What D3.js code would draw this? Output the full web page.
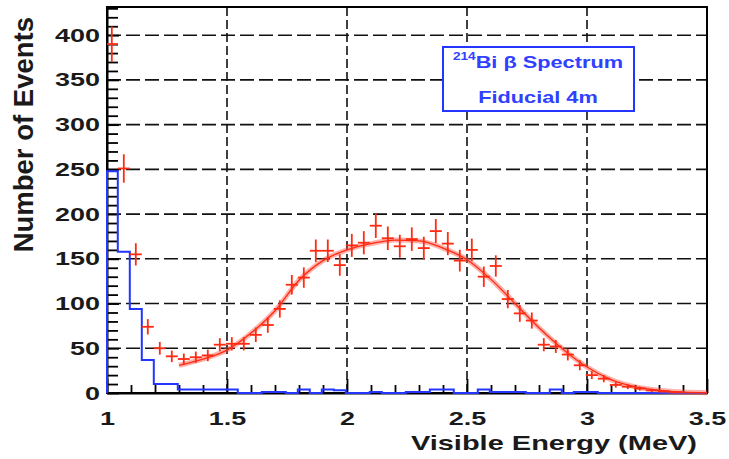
<!DOCTYPE html>
<html>
<head>
<meta charset="utf-8">
<script src="https://cdn.jsdelivr.net/npm/d3@7"></script>
<style>
  html, body { margin: 0; padding: 0; background: #fff; }
  svg { display: block; }
</style>
</head>
<body>
<svg id="chart" width="729" height="459"></svg>
<script>
// Bi-214 beta spectrum, fiducial 4m
const xTicks = [1, 1.5, 2, 2.5, 3, 3.5];
const xTickLabels = ["1", "1.5", "2", "2.5", "3", "3.5"];
const yTicks = [0, 50, 100, 150, 200, 250, 300, 350, 400];

// blue histogram: bins of 0.05 MeV starting at 0.995
const histStart = 0.995;
const binWidth = 0.05;
const histCounts = [
  248, 158, 94, 37, 10, 10, 4, 4, 4, 4,
  4, 0, 0, 1, 1, 0, 4, 0, 4, 3,
  0, 0, 1, 0, 0, 1, 1, 4, 4, 0,
  0, 4, 1, 1, 1, 0, 0, 4, 0, 1,
  1, 0, 0, 0, 0, 0, 0, 0, 0, 0, 0
];

// red data points (bin centres 1.02 + 0.05k)
const dataCounts = [
  390, 251, 155, 74, 50, 41, 38, 40, 42, 54,
  55, 55, 65, 76, 94, 121, 129, 159, 159, 143,
  165, 168, 187, 173, 164, 172, 162, 181, 167, 148,
  160, 130, 142, 105, 89, 81, 54, 52, 43, 31,
  20, 16, 9, 7, 5, 3, 2, 1
];

// red fit curve
const fitE = [1.3, 1.4, 1.5, 1.6, 1.7, 1.8, 1.9, 2.0, 2.1, 2.2, 2.3, 2.4,
  2.5, 2.6, 2.7, 2.8, 2.9, 3.0, 3.1, 3.2, 3.3, 3.4, 3.5];
const fitVal = [31, 38, 48, 67, 92, 126, 148, 160, 167, 171, 170, 162,
  149, 127, 100, 73, 49, 29, 15, 7, 3, 1, 0.3];

const SX = 1.42; // the figure's text is stretched horizontally
const font = "'Liberation Sans', Arial, Helvetica, sans-serif";
const red = "#ff2a12";
const blue = "#2236ff";
const ink = "#1a1a1a";

const svg = d3.select("#chart");

const x = d3.scaleLinear().domain([1, 3.5]).range([107, 707]).clamp(true);
const y = d3.scaleLinear().domain([0, 431.5]).range([393, 7]);

// Grid (dashed)
const grid = svg.append("g");
grid.selectAll(".gx")
  .data(xTicks.slice(1, -1))
  .enter()
  .append("line")
  .attr("x1", d => x(d))
  .attr("x2", d => x(d))
  .attr("y1", y.range()[0])
  .attr("y2", y.range()[1])
  .attr("stroke", "#111")
  .attr("stroke-width", 1.6)
  .attr("stroke-dasharray", "9,4");

grid.selectAll(".gy")
  .data(yTicks.slice(1))
  .enter()
  .append("line")
  .attr("x1", x.range()[0])
  .attr("x2", x.range()[1])
  .attr("y1", d => y(d))
  .attr("y2", d => y(d))
  .attr("stroke", "#111")
  .attr("stroke-width", 1.6)
  .attr("stroke-dasharray", "14,5");

// Frame
svg.append("rect")
  .attr("x", 107)
  .attr("y", 7)
  .attr("width", 600)
  .attr("height", 386)
  .attr("fill", "none")
  .attr("stroke", "#000")
  .attr("stroke-width", 2);

// Axes (ticks point inward)
const yMinor = d3.range(10, 431, 10).filter(v => v % 50 !== 0);
const xMinor = d3.range(1.1, 3.5, 0.1).filter(v => Math.abs(v * 2 - Math.round(v * 2)) > 1e-6);

const yAxis = svg.append("g")
  .attr("transform", "translate(107,0)")
  .call(d3.axisLeft(y).tickValues(yTicks).tickSizeInner(-12).tickSizeOuter(0).tickPadding(7));
const xAxis = svg.append("g")
  .attr("transform", "translate(0,393)")
  .call(d3.axisBottom(x).tickValues(xTicks).tickFormat((d, i) => xTickLabels[i])
    .tickSizeInner(-14).tickSizeOuter(0).tickPadding(18));

svg.append("g")
  .attr("transform", "translate(107,0)")
  .call(d3.axisLeft(y).tickValues(yMinor).tickFormat("").tickSizeInner(-11).tickSizeOuter(0))
  .call(g => g.select(".domain").remove());
svg.append("g")
  .attr("transform", "translate(0,393)")
  .call(d3.axisBottom(x).tickValues(xMinor).tickFormat("").tickSizeInner(-8).tickSizeOuter(0))
  .call(g => g.select(".domain").remove());

svg.selectAll(".tick line").attr("stroke", "#000").attr("stroke-width", 1.8);
svg.selectAll(".domain").attr("stroke", "#000").attr("stroke-width", 2);

yAxis.selectAll("text")
  .attr("x", 0)
  .attr("transform", `translate(-7,0) scale(${SX},1)`)
  .attr("font-family", font)
  .attr("font-weight", 700)
  .attr("font-size", 19)
  .attr("fill", ink);

xAxis.selectAll("text")
  .attr("y", 0)
  .attr("dy", 0)
  .attr("transform", `translate(0,32) scale(${SX},1)`)
  .attr("font-family", font)
  .attr("font-weight", 700)
  .attr("font-size", 19)
  .attr("fill", ink);

// Axis titles
svg.append("text")
  .attr("transform", `translate(697,450) scale(1.45,1)`)
  .attr("text-anchor", "end")
  .attr("font-family", font)
  .attr("font-weight", 700)
  .attr("font-size", 20)
  .attr("fill", ink)
  .text("Visible Energy (MeV)");

svg.append("text")
  .attr("transform", "translate(33,17) rotate(-90)")
  .attr("text-anchor", "end")
  .attr("font-family", font)
  .attr("font-weight", 700)
  .attr("font-size", 27.5)
  .attr("fill", ink)
  .text("Number of Events");

// Blue histogram
const histPts = [{ e: histStart, v: 0 }];
histCounts.forEach((c, i) => histPts.push({ e: histStart + i * binWidth, v: c }));
histPts.push({ e: histStart + histCounts.length * binWidth, v: 0 });

svg.append("path")
  .datum(histPts)
  .attr("fill", "none")
  .attr("stroke", blue)
  .attr("stroke-width", 2)
  .attr("d", d3.line().x(d => x(d.e)).y(d => y(d.v)).curve(d3.curveStepAfter));

// Fit band + line
const fitPts = fitE.map((e, i) => ({ e, v: fitVal[i] }));
const fitLine = d3.line().x(d => x(d.e)).y(d => y(d.v)).curve(d3.curveMonotoneX);

svg.append("path")
  .datum(fitPts)
  .attr("fill", "none")
  .attr("stroke", "#ff5040")
  .attr("stroke-opacity", 0.45)
  .attr("stroke-width", 5)
  .attr("d", fitLine);

svg.append("path")
  .datum(fitPts)
  .attr("fill", "none")
  .attr("stroke", red)
  .attr("stroke-width", 1.3)
  .attr("d", fitLine);

// Red data points with error bars
const pts = dataCounts.map((c, i) => ({ e: histStart + (i + 0.5) * binWidth, v: c }));
const crosses = svg.append("g").attr("stroke", red).attr("stroke-width", 1.8);

crosses.selectAll(".h")
  .data(pts)
  .enter()
  .append("line")
  .attr("x1", d => x(d.e - binWidth / 2))
  .attr("x2", d => x(d.e + binWidth / 2))
  .attr("y1", d => y(d.v))
  .attr("y2", d => y(d.v));

crosses.selectAll(".v")
  .data(pts)
  .enter()
  .append("line")
  .attr("x1", d => x(d.e))
  .attr("x2", d => x(d.e))
  .attr("y1", d => y(d.v - Math.sqrt(d.v)))
  .attr("y2", d => y(d.v + Math.sqrt(d.v)));

// Legend box
svg.append("rect")
  .attr("x", 443)
  .attr("y", 47)
  .attr("width", 191)
  .attr("height", 64)
  .attr("fill", "#fff")
  .attr("stroke", blue)
  .attr("stroke-width", 2);

const l1 = svg.append("text")
  .attr("transform", "translate(538,68) scale(1.36,1)")
  .attr("text-anchor", "middle")
  .attr("font-family", font)
  .attr("font-weight", 700)
  .attr("fill", "#3040ff");
l1.append("tspan").attr("font-size", 10).attr("dy", -8).text("214");
l1.append("tspan").attr("font-size", 16).attr("dy", 8).text("Bi \u03b2 Spectrum");

svg.append("text")
  .attr("transform", "translate(538,103) scale(1.36,1)")
  .attr("text-anchor", "middle")
  .attr("font-family", font)
  .attr("font-weight", 700)
  .attr("font-size", 16)
  .attr("fill", "#3040ff")
  .text("Fiducial 4m");
</script>
</body>
</html>
